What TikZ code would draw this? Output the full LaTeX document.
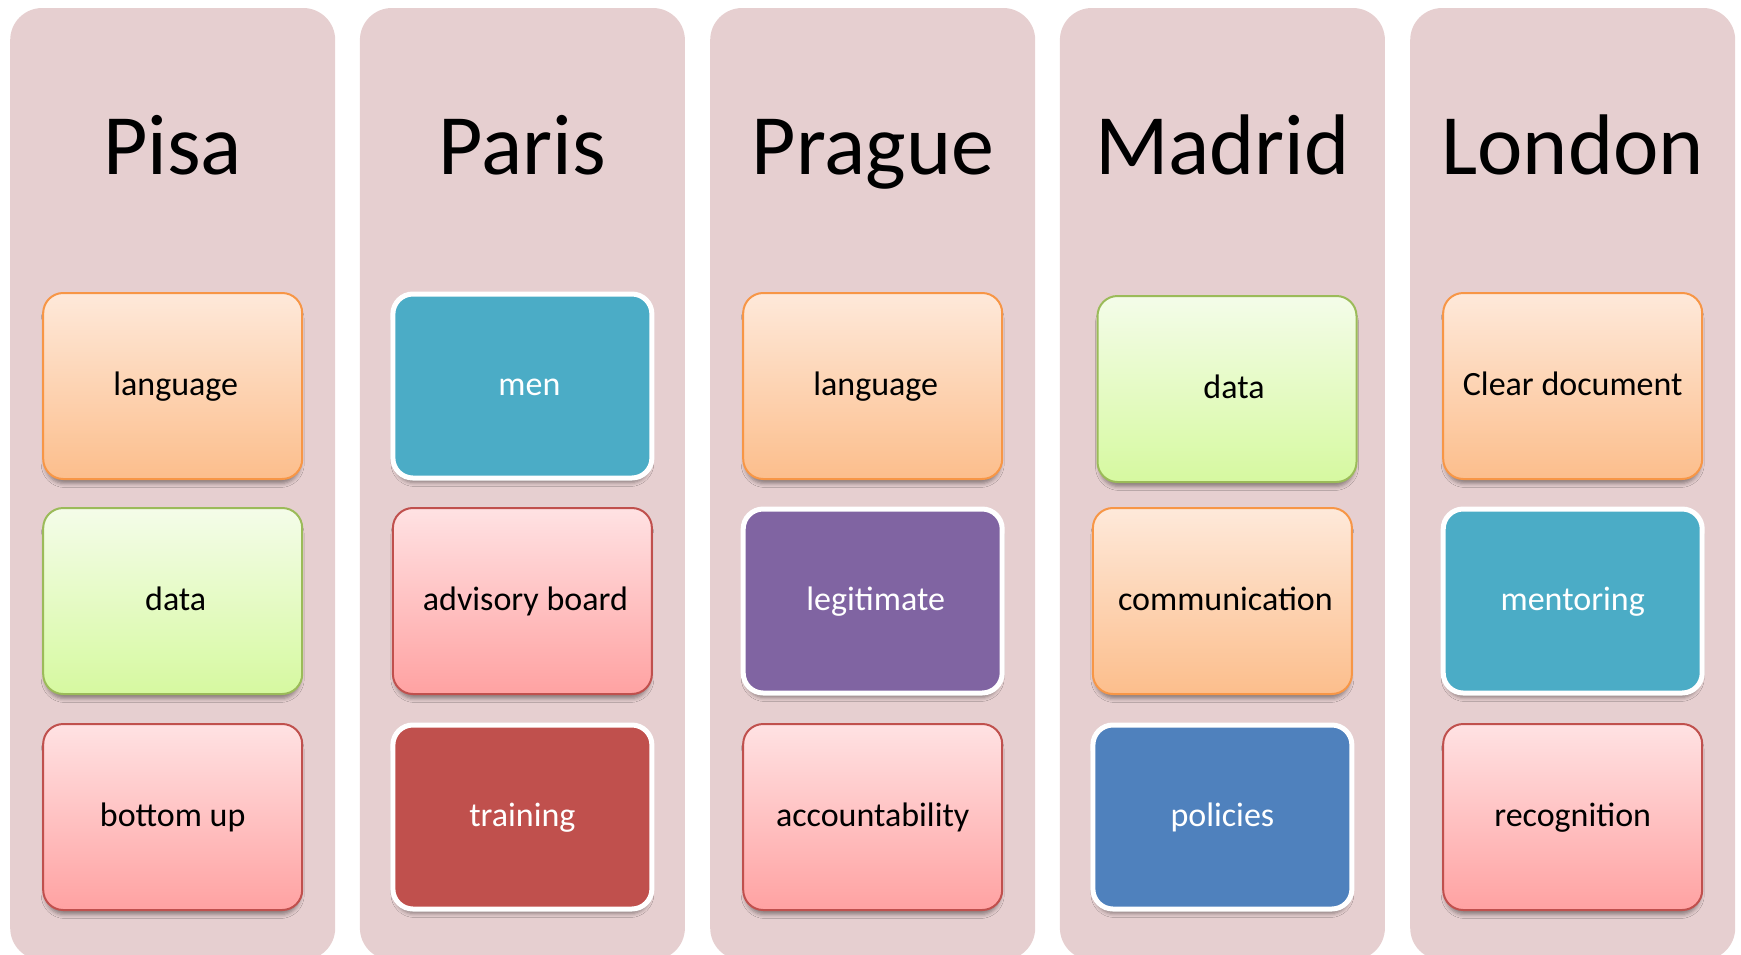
\documentclass[tikz,border=0pt]{standalone}
\usepackage{fontspec}
\setmainfont{Carlito}
\usetikzlibrary{shadows.blur}

% palette
\definecolor{colbg}{RGB}{230,207,208}
\definecolor{orEdge}{RGB}{247,150,70}
\definecolor{orTop}{RGB}{254,233,218}
\definecolor{orBot}{RGB}{252,190,140}
\definecolor{grEdge}{RGB}{155,187,89}
\definecolor{grTop}{RGB}{244,252,233}
\definecolor{grBot}{RGB}{214,249,160}
\definecolor{pkEdge}{RGB}{192,80,77}
\definecolor{pkTop}{RGB}{255,226,227}
\definecolor{pkBot}{RGB}{255,162,162}
\definecolor{tealFill}{RGB}{75,172,198}
\definecolor{purpleFill}{RGB}{128,100,162}
\definecolor{redFill}{RGB}{192,80,77}
\definecolor{blueFill}{RGB}{79,129,189}

\tikzset{
  column/.style={fill=colbg, rounded corners=32pt},
  heading/.style={font=\fontsize{86}{90}\selectfont, anchor=base, inner sep=0pt},
  cell/.style={rounded corners=20pt, inner sep=0pt,
    text height=24pt, text depth=5pt,
    font=\fontsize{34}{40}\selectfont,
    blur shadow={shadow xshift=0pt, shadow yshift=-6pt, shadow scale=0.985,
      shadow blur radius=4pt, shadow opacity=40}},
  shaded/.style={cell, line width=2pt, minimum width=259pt, minimum height=186pt},
  orangecell/.style={shaded, draw=orEdge, top color=orTop, bottom color=orBot},
  greencell/.style={shaded, draw=grEdge, top color=grTop, bottom color=grBot},
  pinkcell/.style={shaded, draw=pkEdge, top color=pkTop, bottom color=pkBot},
  solidcell/.style={cell, draw=white, line width=5pt, text=white,
    minimum width=259pt, minimum height=184pt},
}

\begin{document}
\begin{tikzpicture}[x=1pt, y=-1pt]
  \useasboundingbox (0,0) rectangle (1741,954);

  % five city columns
  \foreach \cx in {172.7, 522.4, 872.7, 1222.4, 1572.7} {
    \fill[column] (\cx-162.5, 8) rectangle (\cx+162.5, 960);
  }

  % headings
  \node[heading] (tPisa)   at (172.7, 174)  {Pisa};
  \node[heading] (tParis)  at (522.4, 174)  {Paris};
  \node[heading] (tPrague) at (872.7, 174)  {Prague};
  \node[heading] (tMadrid) at (1222.4, 174) {Madrid};
  \node[heading] (tLondon) at (1572.7, 174) {London};

  % Pisa
  \node[orangecell] (pi1) at (172.7, 386) {\hspace*{6pt}language};
  \node[greencell]  (pi2) at (172.7, 601) {\hspace*{6pt}data};
  \node[pinkcell]   (pi3) at (172.7, 817) {bottom up};

  % Paris
  \node[solidcell, fill=tealFill] (pa1) at (522.4, 386) {\hspace*{14pt}men};
  \node[pinkcell]                 (pa2) at (522.4, 601) {\hspace*{6pt}advisory board};
  \node[solidcell, fill=redFill]  (pa3) at (522.4, 817) {training};

  % Prague
  \node[orangecell]                 (pr1) at (872.7, 386) {\hspace*{6pt}language};
  \node[solidcell, fill=purpleFill] (pr2) at (872.7, 601) {\hspace*{6pt}legitimate};
  \node[pinkcell]                   (pr3) at (872.7, 817) {accountability};

  % Madrid
  \node[greencell]                (ma1) at (1227, 389) {\hspace*{14pt}data};
  \node[orangecell]               (ma2) at (1222.4, 601) {\hspace*{6pt}communication};
  \node[solidcell, fill=blueFill] (ma3) at (1222.4, 817) {policies};

  % London
  \node[orangecell]               (lo1) at (1572.7, 386) {Clear document};
  \node[solidcell, fill=tealFill] (lo2) at (1572.7, 601) {mentoring};
  \node[pinkcell]                 (lo3) at (1572.7, 817) {recognition};
\end{tikzpicture}
\end{document}
